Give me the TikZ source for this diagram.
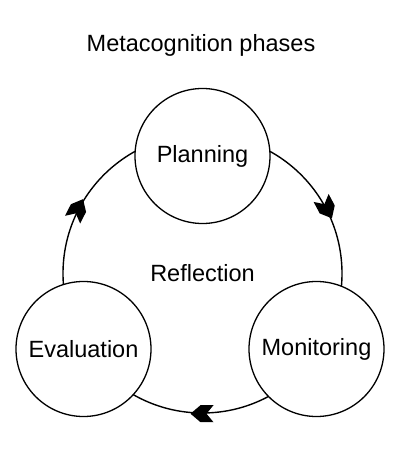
\documentclass[tikz,border=0pt]{standalone}
\usepackage{fontspec}
\setmainfont{Liberation Sans}
\begin{document}
\begin{tikzpicture}[x=1pt,y=1pt,
  txt/.style={font=\fontsize{23.5}{28}\selectfont},
  phase/.style={circle,draw=black,fill=white,line width=1.3pt,minimum size=135pt,inner sep=0pt,txt},
  cycle/.style={circle,draw=black,line width=1.4pt,minimum size=279pt,inner sep=0pt,txt},
  headtip/.style={fill=black}]
\useasboundingbox[fill=white] (0,0) rectangle (400,454);
\node[txt,anchor=base] (title) at (201,402) {Metacognition phases};
\node[cycle] (ref) at (202.5,180.5) {Reflection};
\node[phase] (plan) at (202.5,298) {Planning};
\node[phase] (eval) at (83.5,105) {Evaluation};
\node[phase] (mon) at (316.5,105) {Monitoring};
\fill[headtip,shift={(ref.28)},rotate=-62] (12,0) -- (2,8.5) -- (-11,8.5) -- (-4,0) -- (-11,-8.5) -- (2,-8.5) -- cycle;
\fill[headtip,shift={(ref.270)},rotate=180] (12,0) -- (2,8.5) -- (-11,8.5) -- (-4,0) -- (-11,-8.5) -- (2,-8.5) -- cycle;
\fill[headtip,shift={(ref.153)},rotate=63] (12,0) -- (2,8.5) -- (-11,8.5) -- (-4,0) -- (-11,-8.5) -- (2,-8.5) -- cycle;
\end{tikzpicture}
\end{document}
